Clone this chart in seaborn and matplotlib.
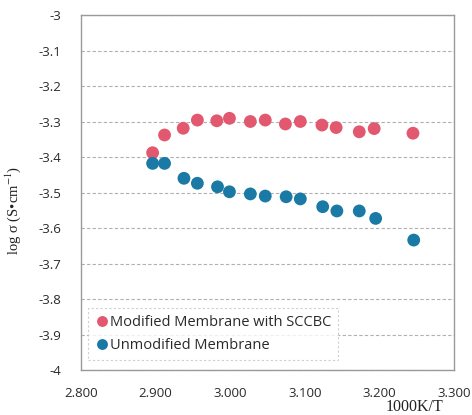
import matplotlib
matplotlib.use("Agg")
import matplotlib.pyplot as plt
import seaborn as sns
import pandas as pd

# 1000K/T values and log conductivity for both membranes
x_mod = [2.896, 2.912, 2.937, 2.956, 2.982, 2.999, 3.027, 3.047, 3.074, 3.094,
         3.123, 3.142, 3.173, 3.193, 3.245]
y_mod = [-3.388, -3.338, -3.319, -3.296, -3.298, -3.291, -3.300, -3.296, -3.307, -3.300,
         -3.310, -3.317, -3.329, -3.320, -3.333]
x_unmod = [2.896, 2.912, 2.938, 2.956, 2.983, 2.999, 3.027, 3.047, 3.075, 3.094,
           3.124, 3.143, 3.173, 3.195, 3.246]
y_unmod = [-3.418, -3.418, -3.460, -3.474, -3.484, -3.498, -3.504, -3.510, -3.512, -3.518,
           -3.540, -3.552, -3.552, -3.573, -3.634]
series_names = ["Modified Membrane with SCCBC", "Unmodified Membrane"]
colors = ["#E2596F", "#1B7AA5"]
x_ticks = [2.8, 2.9, 3.0, 3.1, 3.2, 3.3]
y_ticks = [-3.0, -3.1, -3.2, -3.3, -3.4, -3.5, -3.6, -3.7, -3.8, -3.9, -4.0]

df = pd.DataFrame({
    "x": x_mod + x_unmod,
    "y": y_mod + y_unmod,
    "series": [series_names[0]] * len(x_mod) + [series_names[1]] * len(x_unmod),
})

sns.set_style("white")
plt.rcParams["mathtext.fontset"] = "stix"
fig = plt.figure(figsize=(4.72, 4.15), dpi=100)
ax = fig.add_axes([81 / 472, 1 - 370 / 415, (454 - 81) / 472, (370 - 15) / 415])

sns.scatterplot(data=df, x="x", y="y", hue="series", palette=colors,
                s=85, edgecolor="none", ax=ax, zorder=3, legend=True)

ax.set_xlim(2.8, 3.3)
ax.set_ylim(-4.0, -3.0)
ax.set_xticks(x_ticks)
ax.set_xticklabels([f"{v:.3f}" for v in x_ticks])
ax.set_yticks(y_ticks)
ax.set_yticklabels([f"{v:g}" for v in y_ticks])
ax.grid(axis="y", color="#b0b0b0", linestyle=(0, (3, 2)), linewidth=0.8)
ax.grid(axis="x", visible=False)
for sp in ax.spines.values():
    sp.set_color("#9a9a9a")
    sp.set_linewidth(1.0)
ax.tick_params(axis="both", labelsize=9.5, colors="#444444", length=3, direction="out")
ax.tick_params(axis="y", length=0, pad=14)
ax.tick_params(axis="x", pad=9)
for lab in ax.get_xticklabels() + ax.get_yticklabels():
    lab.set_family(["Open Sans", "DejaVu Sans"])
    lab.set_color("#2a2a2a")

ax.set_xlabel("")
ax.set_ylabel("log σ (S•cm$^{-1}$)", family="Liberation Serif",
              fontsize=10.5, color="#222222")
ax.yaxis.set_label_coords(-0.155, 0.45)
fig.text(415 / 472, 1 - 407 / 415, "1000K/T", family="Liberation Serif",
         fontsize=11.5, color="#222222", ha="center", va="center")

leg = ax.legend(loc="lower left", bbox_to_anchor=(0.018, 0.028), frameon=True,
                fontsize=10.5, handletextpad=0.05, borderpad=0.45, labelspacing=0.6,
                markerscale=0.85, handlelength=1.0, borderaxespad=0)
leg.get_frame().set_edgecolor("#c4c4c4")
leg.get_frame().set_linestyle((0, (2, 2)))
leg.get_frame().set_linewidth(0.8)
leg.get_frame().set_boxstyle("square", pad=0)
for t in leg.get_texts():
    t.set_family(["Open Sans", "DejaVu Sans"])
    t.set_color("#2a2a2a")

fig.savefig("out.png", dpi=100)
